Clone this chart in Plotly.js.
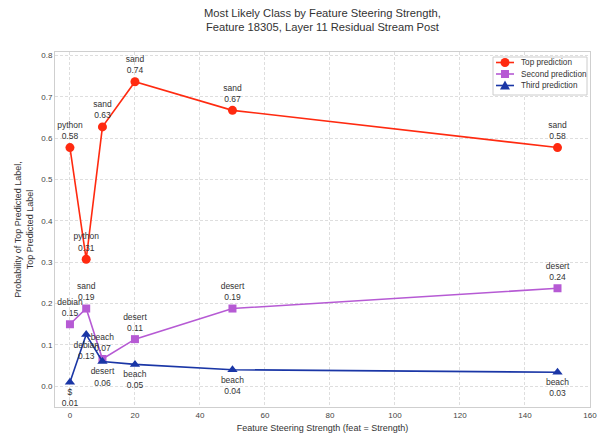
<!DOCTYPE html>
<html><head><meta charset="utf-8">
<script src="https://cdn.plot.ly/plotly-3.0.1.min.js"></script>
<style>html,body{margin:0;padding:0;background:#fff}#chart{width:605px;height:436px}</style>
</head><body><div id="chart"></div>
<script>
const strengths = [0, 5, 10, 20, 50, 150];
const topValues = [0.577, 0.307, 0.627, 0.736, 0.667, 0.577];
const topLabels = ["python", "python", "sand", "sand", "sand", "sand"];
const secondValues = [0.150, 0.188, 0.066, 0.114, 0.188, 0.237];
const secondLabels = ["debian", "sand", "beach", "desert", "desert", "desert"];
const thirdValues = [0.010, 0.125, 0.060, 0.053, 0.040, 0.034];
const thirdLabels = ["$", "debian", "desert", "beach", "beach", "beach"];
const seriesNames = ["Top prediction", "Second prediction", "Third prediction"];
const xTicks = [0, 20, 40, 60, 80, 100, 120, 140, 160];
const yTicks = [0, 0.1, 0.2, 0.3, 0.4, 0.5, 0.6, 0.7, 0.8];

const colors = ["#ff2a10", "#b65ad4", "#1a36a6"];
const FONT = "Liberation Sans, Arial, sans-serif";
function lab(names, vals){ return names.map((n,i)=> n + "<br>" + vals[i].toFixed(2)); }

const tf = {family: FONT, size: 8.5, color: "#333"};
const traces = [
  {x: strengths, y: topValues, name: seriesNames[0], mode: "lines+markers+text",
   text: lab(topLabels, topValues), textposition: "top center", textfont: tf,
   line: {color: colors[0], width: 1.6}, marker: {color: colors[0], size: 9, symbol: "circle"}},
  {x: strengths, y: secondValues, name: seriesNames[1], mode: "lines+markers+text",
   text: lab(secondLabels, secondValues), textposition: "top center", textfont: tf,
   line: {color: colors[1], width: 1.6}, marker: {color: colors[1], size: 8, symbol: "square"}},
  {x: strengths, y: thirdValues, name: seriesNames[2], mode: "lines+markers+text",
   text: lab(thirdLabels, thirdValues), textposition: "bottom center", textfont: tf,
   line: {color: colors[2], width: 1.6}, marker: {color: colors[2], size: 9, symbol: "triangle-up"}}
];

// plot-area geometry (pixels) for the compact legend
const M = {l: 55, r: 15, t: 52, b: 29}, W = 605, H = 436;
const PW = W - M.l - M.r, PH = H - M.t - M.b;
const px = v => (v - M.l) / PW, py = v => (H - M.b - v) / PH;

const shapes = [
  {type: "rect", xref: "paper", yref: "paper", x0: px(493), x1: px(587), y0: py(95), y1: py(57),
   line: {color: "#cccccc", width: 1}, fillcolor: "#ffffff", layer: "above"}
];
const annotations = [];
const rowsY = [62.5, 74, 85.5];
rowsY.forEach((ry, i) => {
  shapes.push({type: "line", xref: "paper", yref: "paper", x0: px(496), x1: px(514), y0: py(ry), y1: py(ry),
               line: {color: colors[i], width: 1.6}, layer: "above"});
  const base = {xref: "paper", yref: "paper", xsizemode: "pixel", ysizemode: "pixel",
                xanchor: px(505), yanchor: py(ry), fillcolor: colors[i], line: {color: colors[i], width: 0}, layer: "above"};
  if (i === 0) shapes.push(Object.assign({type: "circle", x0: -4.5, x1: 4.5, y0: -4.5, y1: 4.5}, base));
  if (i === 1) shapes.push(Object.assign({type: "rect", x0: -4, x1: 4, y0: -4, y1: 4}, base));
  if (i === 2) shapes.push(Object.assign({type: "path", path: "M -5,-4 L 5,-4 L 0,5 Z"}, base));
  annotations.push({xref: "paper", yref: "paper", x: px(519), y: py(ry), xanchor: "left", yanchor: "middle",
                    text: seriesNames[i], showarrow: false, font: {family: FONT, size: 8.2, color: "#333"}});
});

const axisCommon = {
  showgrid: true, gridcolor: "#d6d6d6", griddash: "3px,2px", gridwidth: 0.8,
  zeroline: false, showline: true, linecolor: "#cfcfcf", linewidth: 1, mirror: true,
  ticks: "", tickfont: {family: FONT, size: 8, color: "#444"}
};

const layout = {
  width: W, height: H,
  margin: M,
  paper_bgcolor: "#fff", plot_bgcolor: "#fff",
  font: {family: FONT, color: "#333"},
  title: {text: "Most Likely Class by Feature Steering Strength,<br>Feature 18305, Layer 11 Residual Stream Post",
          font: {size: 11.2, color: "#333"}, x: 0.533, xanchor: "center", y: 0.962, yanchor: "top"},
  xaxis: Object.assign({}, axisCommon, {range: [-4.6, 160], tickvals: xTicks,
          title: {text: "Feature Steering Strength (feat = Strength)", font: {size: 9, color: "#333"}, standoff: 6}}),
  yaxis: Object.assign({}, axisCommon, {range: [-0.05, 0.808], tickvals: yTicks,
          ticktext: yTicks.map(v => v.toFixed(1)),
          title: {text: "Probability of Top Predicted Label,<br>Top Predicted Label", font: {size: 9, color: "#333"}, standoff: 6}}),
  showlegend: false,
  shapes: shapes,
  annotations: annotations
};

Plotly.newPlot("chart", traces, layout, {displayModeBar: false, staticPlot: true});
</script>
</body></html>
